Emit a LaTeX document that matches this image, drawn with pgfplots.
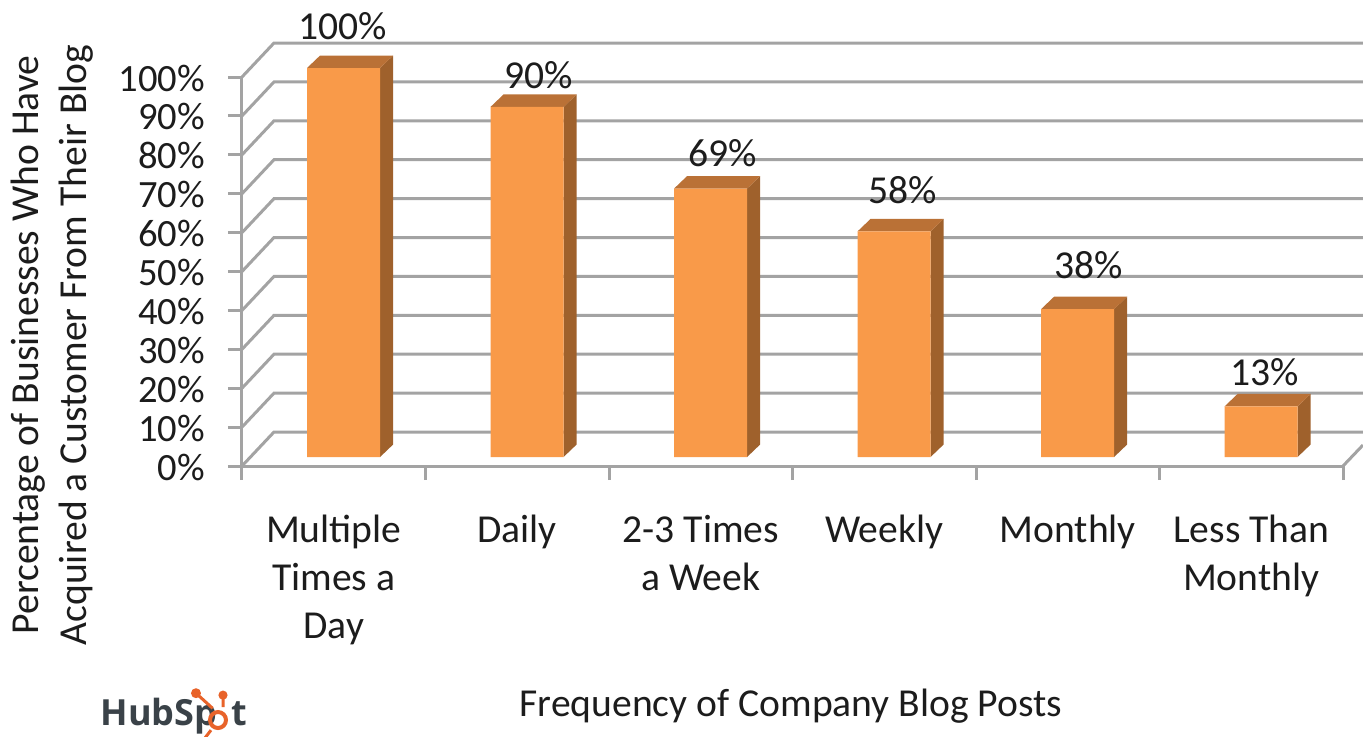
\documentclass[border=0pt]{standalone}
\usepackage{fontspec}
\setmainfont{Carlito}
\newfontfamily\logofont{Open Sans}
\usepackage{pgfplots}
\pgfplotsset{compat=1.18}

\definecolor{gridgray}{HTML}{A3A3A3}
\definecolor{barfront}{HTML}{F99A49}
\definecolor{barside}{HTML}{9F612C}
\definecolor{bartop}{HTML}{BA7136}
\definecolor{textdark}{HTML}{1C1C1C}
\definecolor{logodark}{HTML}{3A4248}
\definecolor{logoorange}{HTML}{E8632A}

% side and top faces of one bar: category centre, value
\newcommand{\barfaces}[2]{%
  \pgfmathsetmacro\xr{#1+0.199}%
  \pgfmathsetmacro\xl{#1-0.199}%
  \pgfmathsetmacro\xrb{#1+0.199+0.0708}%
  \pgfmathsetmacro\xlb{#1-0.199+0.0708}%
  \pgfmathsetmacro\vb{#2+3.2}%
  \addplot[fill=barside, draw=none, forget plot, xshift=4.9pt, yshift=4.5pt]
    coordinates {(\xr,0) (\xrb,3.2) (\xrb,\vb) (\xr,#2)} -- cycle;
  \addplot[fill=bartop, draw=none, forget plot, xshift=4.9pt, yshift=4.5pt]
    coordinates {(\xl,#2) (\xlb,\vb) (\xrb,\vb) (\xr,#2)} -- cycle;
}
% back wall grid line: value
\newcommand{\wallline}[1]{%
  \pgfmathsetmacro\vb{#1+8.74}%
  \addplot[gridgray, line width=1.5pt, forget plot]
    coordinates {(0,#1) (0.1744,\vb) (6.109,\vb)};
}

\begin{document}
\begin{tikzpicture}[x=1pt,y=1pt]
\begin{axis}[
  name=main,
  at={(0,0)}, anchor=south west,
  scale only axis,
  width=550.5pt,
  height=194.5pt,
  xmin=0, xmax=6,
  ymin=0, ymax=100,
  clip=false,
  axis lines*=left,
  axis line style={gridgray, line width=1.5pt, -},
  tick align=outside,
  tick style={gridgray, line width=1.5pt},
  major tick length=7pt,
  xtick={0,1,2,3,4,5,6},
  xticklabels={{Multiple\\Times a\\Day}, Daily, {2-3 Times\\a Week}, Weekly, Monthly, {Less Than\\Monthly}},
  x tick label as interval=true,
  x tick label style={align=center, font={\fontsize{19.8}{24}\selectfont}, text=textdark, anchor=north, yshift=-14pt},
  ytick={0,10,...,100},
  yticklabel={\pgfmathprintnumber{\tick}\%},
  /pgf/number format/assume math mode=true,
  y tick label style={font={\fontsize{19.3}{22}\selectfont}, text=textdark, xshift=-8pt, yshift=-0.5pt},
  xlabel={Frequency of Company Blog Posts},
  every axis x label/.style={at={(rel axis cs:0.4986,-0.618)}, anchor=center, font={\fontsize{19.8}{22}\selectfont}, text=textdark},
  ylabel={Percentage of Businesses Who Have\\Acquired a Customer From Their Blog},
  every axis y label/.style={at={(rel axis cs:-0.172,0.311)}, rotate=90, anchor=center, align=center, font={\fontsize{19.8}{24}\selectfont}, text=textdark},
]
\wallline{0}\wallline{10}\wallline{20}\wallline{30}\wallline{40}\wallline{50}
\wallline{60}\wallline{70}\wallline{80}\wallline{90}\wallline{100}
% floor edge at the right
\addplot[gridgray, line width=1.5pt, forget plot] coordinates {(6,0) (6.109,5.4)};

\barfaces{0.5}{100}
\barfaces{1.5}{90}
\barfaces{2.5}{69}
\barfaces{3.5}{58}
\barfaces{4.5}{38}
\barfaces{5.5}{13}

\addplot[ybar, bar width=36.5pt, fill=barfront, draw=none, xshift=4.9pt, yshift=4.5pt]
  coordinates {(0.5,100) (1.5,90) (2.5,69) (3.5,58) (4.5,38) (5.5,13)};

% data labels, placed by hand in the original
\addplot[draw=none, point meta=explicit symbolic,
  nodes near coords,
  every node near coord/.style={anchor=center, font={\fontsize{19.8}{22}\selectfont}, text=textdark}]
  coordinates {
    (0.55,113.1) [100\%]
    (1.618,100.5) [90\%]
    (2.621,80.5) [69\%]
    (3.602,70.9) [58\%]
    (4.616,51.7) [38\%]
    (5.575,24.2) [13\%]
  };

% logo
\node[anchor=base west, inner sep=0pt, text=logodark, font={\logofont\bfseries\fontsize{18}{22}\selectfont}] at (axis cs:-0.772,-66.8) {HubSp};
\node[anchor=base west, inner sep=0pt, text=logodark, font={\logofont\bfseries\fontsize{18}{22}\selectfont}] at (axis cs:-0.062,-66.8) {t};
\draw[logoorange, line width=2pt] (axis cs:-0.1308,-65.3) circle[radius=4pt];
\draw[logoorange, line width=1.5pt] (axis cs:-0.2507,-58.4) -- (axis cs:-0.16,-62.3)
  (axis cs:-0.1035,-58.9) -- (axis cs:-0.1035,-62)
  (axis cs:-0.169,-67.9) -- (axis cs:-0.2016,-69.9);
\fill[logoorange] (axis cs:-0.2507,-58.4) circle[radius=2.5pt] (axis cs:-0.1035,-58.9) circle[radius=2.3pt];
\end{axis}
\pgfresetboundingbox
\path[use as bounding box] (-121pt,-135pt) rectangle (560.5pt,233pt);
\end{tikzpicture}
\end{document}
